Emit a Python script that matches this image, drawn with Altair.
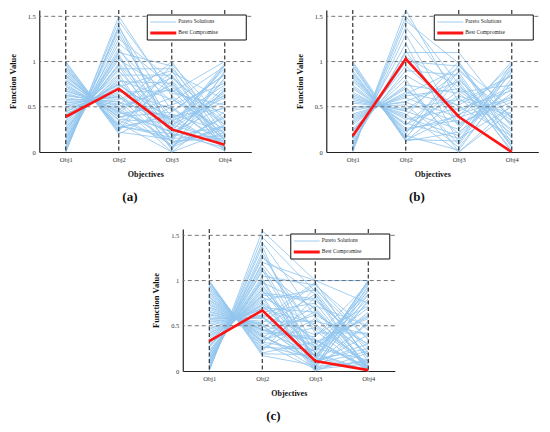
import altair as alt
import pandas as pd

OBJ_POS = [1, 2, 3, 4]
Y_TICKS = [0, 0.5, 1, 1.5]
GRID_Y = [0.5, 1, 1.5]
LEGEND_LABELS = ["Pareto Solutions", "Best Compromise"]

# ---------------- panel (a) ----------------
o1_a = [0.00, 0.02, 0.05, 0.08, 0.10, 0.12, 0.15, 0.18, 0.20, 0.22,
        0.25, 0.28, 0.30, 0.32, 0.35, 0.37, 0.40, 0.42, 0.45, 0.47,
        0.50, 0.52, 0.55, 0.57, 0.60, 0.62, 0.65, 0.67, 0.70, 0.72,
        0.75, 0.77, 0.80, 0.82, 0.85, 0.87, 0.90, 0.92, 0.95, 0.97,
        1.00, 0.03, 0.13, 0.27, 0.44, 0.58, 0.68, 0.79, 0.88, 0.99,
        0.06, 0.16, 0.24, 0.34, 0.41, 0.49, 0.54, 0.63, 0.73, 0.84,
        0.93, 0.00]
o2_a = [1.50, 1.38, 1.25, 1.30, 1.12, 1.20, 1.05, 1.10, 0.98, 1.02,
        0.95, 0.85, 0.90, 0.80, 0.86, 0.78, 0.75, 0.72, 0.70, 0.66,
        0.68, 0.62, 0.58, 0.60, 0.52, 0.55, 0.48, 0.50, 0.45, 0.42,
        0.40, 0.43, 0.36, 0.38, 0.32, 0.30, 0.28, 0.26, 0.24, 0.22,
        0.20, 1.45, 1.15, 0.92, 0.74, 0.56, 0.47, 0.39, 0.29, 0.23,
        1.35, 1.08, 0.96, 0.82, 0.76, 0.64, 0.61, 0.53, 0.44, 0.35,
        0.27, 1.40]
o3_a = [0.62, 0.45, 0.80, 0.30, 0.55, 0.72, 0.18, 0.95, 0.40, 0.66,
        0.10, 0.85, 0.25, 0.58, 0.02, 0.76, 0.35, 0.90, 0.15, 0.68,
        0.48, 0.05, 0.82, 0.28, 1.00, 0.38, 0.12, 0.70, 0.22, 0.52,
        0.08, 0.88, 0.32, 0.60, 0.00, 0.78, 0.20, 0.42, 0.97, 0.14,
        0.50, 0.65, 0.26, 0.92, 0.36, 0.06, 0.74, 0.44, 0.16, 0.84,
        0.20, 0.10, 0.30, 0.05, 0.25, 0.15, 0.35, 0.00, 0.22, 0.12,
        0.40, 0.18]
o4_a = [0.20, 0.85, 0.05, 0.60, 0.95, 0.30, 0.72, 0.12, 0.48, 1.00,
        0.38, 0.08, 0.66, 0.25, 0.90, 0.15, 0.55, 0.02, 0.80, 0.42,
        0.10, 0.70, 0.33, 0.98, 0.18, 0.62, 0.88, 0.04, 0.50, 0.76,
        0.28, 0.58, 0.92, 0.14, 0.45, 0.00, 0.68, 0.22, 0.35, 0.82,
        0.06, 0.52, 0.96, 0.26, 0.74, 0.40, 0.12, 0.86, 0.64, 0.30,
        0.05, 0.25, 0.12, 0.30, 0.02, 0.18, 0.08, 0.22, 0.95, 0.15,
        0.04, 0.28]
best_a = [0.39, 0.70, 0.25, 0.08]

# ---------------- panel (b) ----------------
o1_b = [0.00, 0.03, 0.06, 0.10, 0.14, 0.18, 0.22, 0.26, 0.30, 0.34,
        0.38, 0.42, 0.46, 0.50, 0.54, 0.58, 0.62, 0.66, 0.70, 0.74,
        0.78, 0.82, 0.86, 0.90, 0.94, 0.98, 1.00, 0.02, 0.08, 0.16,
        0.24, 0.32, 0.40, 0.48, 0.56, 0.64, 0.72, 0.80, 0.88, 0.96,
        0.12, 0.36, 0.60, 0.84, 0.05]
o2_b = [1.57, 1.45, 1.30, 1.05, 1.20, 0.90, 0.95, 0.80, 0.74, 0.70,
        0.64, 0.60, 0.56, 0.52, 0.48, 0.45, 0.40, 0.36, 0.32, 0.30,
        0.26, 0.22, 0.18, 0.15, 0.13, 0.12, 0.14, 1.50, 1.12, 1.00,
        0.85, 0.72, 0.62, 0.55, 0.46, 0.38, 0.30, 0.24, 0.16, 0.12,
        1.10, 0.66, 0.42, 0.20, 1.38]
o3_b = [0.55, 0.98, 0.30, 0.72, 0.10, 0.85, 0.45, 0.00, 0.65, 0.20,
        0.92, 0.38, 0.78, 0.05, 0.58, 0.25, 1.00, 0.48, 0.15, 0.82,
        0.35, 0.68, 0.02, 0.90, 0.42, 0.60, 0.12, 0.75, 0.28, 0.95,
        0.50, 0.08, 0.70, 0.32, 0.88, 0.18, 0.62, 0.40, 0.80, 0.22,
        1.10, 0.52, 0.00, 0.96, 0.66]
o4_b = [0.85, 0.10, 0.62, 0.35, 0.95, 0.05, 0.72, 0.45, 0.20, 0.88,
        0.30, 0.58, 0.00, 0.78, 0.40, 0.92, 0.15, 0.68, 0.50, 0.08,
        1.00, 0.25, 0.82, 0.38, 0.60, 0.12, 0.98, 0.02, 0.70, 0.48,
        0.18, 0.90, 0.32, 0.55, 0.06, 0.76, 0.42, 0.96, 0.22, 0.65,
        0.36, 0.84, 0.52, 0.28, 0.74]
best_b = [0.18, 1.03, 0.39, 0.00]

# ---------------- panel (c) ----------------
o1_c = [0.00, 0.02, 0.04, 0.07, 0.10, 0.12, 0.15, 0.18, 0.20, 0.23,
        0.26, 0.28, 0.31, 0.34, 0.36, 0.39, 0.42, 0.44, 0.47, 0.50,
        0.52, 0.55, 0.58, 0.60, 0.63, 0.66, 0.68, 0.71, 0.74, 0.76,
        0.79, 0.82, 0.84, 0.87, 0.90, 0.92, 0.95, 0.98, 1.00, 0.01,
        0.06, 0.14, 0.22, 0.30, 0.38, 0.46, 0.54, 0.62, 0.70, 0.78,
        0.86, 0.94, 0.97, 0.09, 0.16,
        0.03, 0.11, 0.19, 0.27, 0.33, 0.41, 0.57, 0.65, 0.73, 0.81,
        0.89, 0.99]
o2_c = [1.55, 1.42, 1.32, 1.25, 1.12, 1.18, 1.05, 1.00, 0.98, 0.92,
        0.90, 0.86, 0.82, 0.80, 0.78, 0.74, 0.72, 0.70, 0.68, 0.65,
        0.62, 0.60, 0.58, 0.55, 0.52, 0.50, 0.48, 0.46, 0.44, 0.42,
        0.40, 0.37, 0.35, 0.32, 0.30, 0.28, 0.24, 0.20, 0.17, 1.48,
        1.28, 1.10, 0.95, 0.84, 0.76, 0.69, 0.61, 0.53, 0.46, 0.39,
        0.33, 0.26, 0.22, 1.20, 1.00,
        1.38, 1.15, 1.02, 0.88, 0.83, 0.73, 0.59, 0.51, 0.45, 0.38,
        0.31, 0.19]
o3_c = [1.00, 0.60, 0.25, 0.85, 0.10, 0.45, 0.95, 0.02, 0.70, 0.30,
        0.15, 0.80, 0.50, 0.05, 0.90, 0.35, 0.20, 0.65, 0.00, 0.75,
        0.40, 0.12, 0.98, 0.55, 0.28, 0.08, 0.85, 0.18, 0.62, 0.38,
        0.03, 0.72, 0.48, 0.22, 0.92, 0.14, 0.58, 0.32, 0.06, 0.88,
        0.42, 0.68, 0.16, 0.78, 0.26, 0.52, 0.04, 0.96, 0.34, 0.10,
        0.66, 0.24, 0.82, 1.00, 1.00,
        0.05, 0.20, 0.10, 0.30, 0.00, 0.15, 0.25, 0.08, 0.35, 0.12,
        0.02, 0.18]
o4_c = [1.00, 0.02, 0.70, 0.15, 0.98, 0.00, 0.45, 0.85, 0.05, 0.60,
        1.00, 0.25, 0.08, 0.78, 0.35, 0.00, 0.92, 0.18, 0.55, 0.03,
        0.72, 1.00, 0.10, 0.40, 0.88, 0.22, 0.01, 0.65, 0.30, 0.96,
        0.12, 0.50, 0.06, 0.80, 0.20, 1.00, 0.04, 0.58, 0.90, 0.14,
        0.42, 0.00, 0.76, 0.28, 0.62, 0.08, 0.95, 0.35, 0.02, 0.52,
        0.18, 0.85, 0.00, 0.75, 1.00,
        0.10, 0.00, 0.30, 0.05, 0.20, 0.00, 0.12, 0.40, 0.02, 0.25,
        0.08, 0.00]
best_c = [0.33, 0.67, 0.11, 0.01]

SERIF = "Liberation Serif"
BLUE = "#93c6ef"
RED = "#ff1414"
W, H = 212, 142


def long_df(cols):
    rows = []
    for i, vals in enumerate(zip(*cols)):
        for k, v in zip(OBJ_POS, vals):
            rows.append({"id": i, "obj": k, "value": v})
    return pd.DataFrame(rows)


def panel(cols, best, letter):
    df = long_df(cols)
    bdf = pd.DataFrame({"obj": OBJ_POS, "value": best})
    xs = alt.X("obj:Q",
               scale=alt.Scale(domain=[0.5, 4.5], nice=False, zero=False),
               axis=alt.Axis(values=OBJ_POS, labelExpr="'Obj' + datum.value",
                             title="Objectives", grid=False, ticks=False,
                             domainColor="#222", domainWidth=1.2,
                             labelFont=SERIF, labelFontSize=6.5, labelColor="#333",
                             labelPadding=4, titleFont=SERIF, titleFontSize=8,
                             titleFontWeight="bold", titleColor="#111",
                             titlePadding=8))
    ys = alt.Y("value:Q",
               scale=alt.Scale(domain=[0, 1.57], nice=False, zero=True),
               axis=alt.Axis(values=Y_TICKS, format="~g",
                             title="Function Value", grid=False, ticks=False,
                             domainColor="#222", domainWidth=1.2,
                             labelFont=SERIF, labelFontSize=6.5, labelColor="#333",
                             labelPadding=4, titleFont=SERIF, titleFontSize=8.5,
                             titleFontWeight="bold", titleColor="#111",
                             titlePadding=10))
    pareto = alt.Chart(df).mark_line(color=BLUE, strokeWidth=0.85).encode(
        x=xs, y=ys, detail="id:N")
    hgrid = alt.Chart(pd.DataFrame({"value": GRID_Y})).mark_rule(
        color="#666", strokeDash=[4, 3], strokeWidth=0.9).encode(y=ys)
    vgrid = alt.Chart(pd.DataFrame({"obj": OBJ_POS})).mark_rule(
        color="#222", strokeDash=[4, 2.5], strokeWidth=1.1).encode(x=xs)
    bline = alt.Chart(bdf).mark_line(color=RED, strokeWidth=2.6).encode(x=xs, y=ys)

    one = pd.DataFrame({"k": [0]})
    box = alt.Chart(one).mark_rect(fill="white", stroke="#111", strokeWidth=1).encode(
        x=alt.value(108), x2=alt.value(207), y=alt.value(5), y2=alt.value(30))
    l1 = alt.Chart(one).mark_rule(color=BLUE, strokeWidth=0.9).encode(
        x=alt.value(111), x2=alt.value(137), y=alt.value(12))
    l2 = alt.Chart(one).mark_rule(color=RED, strokeWidth=3).encode(
        x=alt.value(111), x2=alt.value(137), y=alt.value(23))
    t1 = alt.Chart(one).mark_text(align="left", baseline="middle", font=SERIF,
                                  fontSize=5.5, color="#222").encode(
        x=alt.value(139), y=alt.value(11), text=alt.value(LEGEND_LABELS[0]))
    t2 = alt.Chart(one).mark_text(align="left", baseline="middle", font=SERIF,
                                  fontSize=5.5, color="#222").encode(
        x=alt.value(139), y=alt.value(22), text=alt.value(LEGEND_LABELS[1]))

    return alt.layer(pareto, hgrid, vgrid, bline, box, l1, l2, t1, t2).properties(
        width=W, height=H,
        title=alt.TitleParams(text=f"({letter})", orient="bottom", frame="bounds",
                              anchor="middle", font=SERIF, fontSize=13,
                              fontWeight="bold", color="#111", offset=12))


pa = panel([o1_a, o2_a, o3_a, o4_a], best_a, "a")
pb = panel([o1_b, o2_b, o3_b, o4_b], best_b, "b")
pc = panel([o1_c, o2_c, o3_c, o4_c], best_c, "c")

top = alt.hconcat(pa, pb, spacing=42)
chart = alt.vconcat(top, pc, spacing=24, center=True).properties(
    padding=0, background="white"
).configure_view(stroke=None)

chart.save("out.html", embed_options={"renderer": "svg", "actions": False})
